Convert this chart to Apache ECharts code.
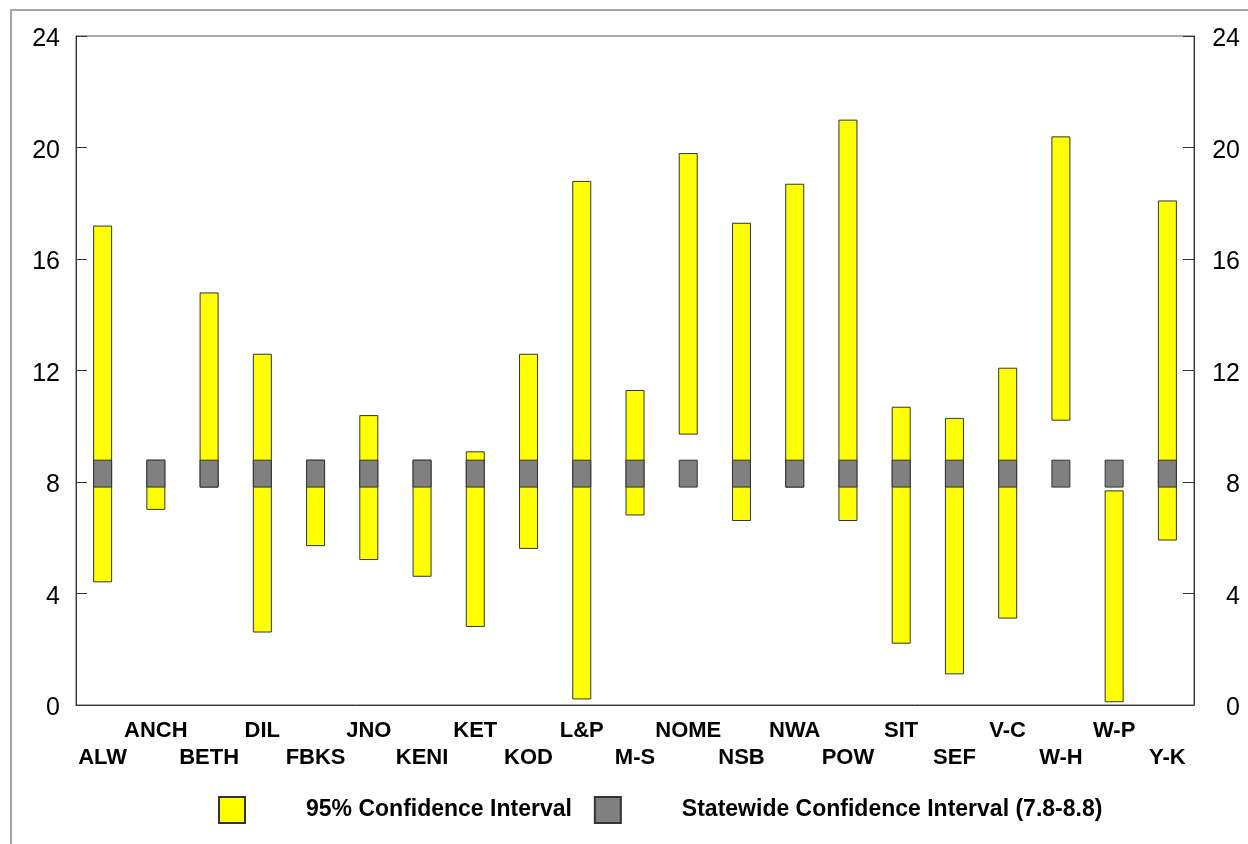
<!DOCTYPE html>
<html>
<head>
<meta charset="utf-8">
<script src="https://cdn.jsdelivr.net/npm/echarts@6/dist/echarts.min.js"></script>
<style>html,body{margin:0;padding:0;background:#fff;}#c{width:1248px;height:844px;}</style>
</head>
<body>
<div id="c"></div>
<script>
const categories = ['ALW','ANCH','BETH','DIL','FBKS','JNO','KENI','KET','KOD','L&P','M-S','NOME','NSB','NWA','POW','SIT','SEF','V-C','W-H','W-P','Y-K'];
const ciLow  = [4.4, 7.0, 7.8, 2.6, 5.7, 5.2, 4.6, 2.8, 5.6, 0.2, 6.8, 9.7, 6.6, 7.8, 6.6, 2.2, 1.1, 3.1, 10.2, 0.1, 5.9];
const ciHigh = [17.2, 8.8, 14.8, 12.6, 8.8, 10.4, 8.8, 9.1, 12.6, 18.8, 11.3, 19.8, 17.3, 18.7, 21.0, 10.7, 10.3, 12.1, 20.4, 7.7, 18.1];
const stateLow = 7.8;
const stateHigh = 8.8;
const yTicks = [0, 4, 8, 12, 16, 20, 24];

const fontFam = '"Liberation Sans", Arial, sans-serif';
const chart = echarts.init(document.getElementById('c'));
const yAxisCommon = {
  type: 'value', min: yTicks[0], max: yTicks[yTicks.length - 1], interval: 4,
  splitLine: { show: false },
  axisLine: { show: true, lineStyle: { color: '#333', width: 1 } },
  axisTick: { show: true, inside: true, length: 11, lineStyle: { color: '#333' } },
  axisLabel: {
    color: '#000', fontSize: 25, fontFamily: fontFam,
    formatter: function (v) { return '{a|' + v + '}'; },
    rich: { a: { fontSize: 25, fontFamily: fontFam, color: '#000', padding: [7, 0, 0, 0] } }
  }
};
chart.setOption({
  animation: false,
  grid: { left: 76, right: 54, top: 36, bottom: 139, show: true, borderColor: '#555', borderWidth: 1, backgroundColor: 'transparent' },
  graphic: [{ type: 'rect', shape: { x: 11, y: 10, width: 1300, height: 900 }, style: { fill: 'none', stroke: '#888', lineWidth: 1.5 }, silent: true }],
  legend: {
    left: 218, top: 796, padding: 0, itemWidth: 26, itemHeight: 26, itemGap: 22,
    data: ['95% Confidence Interval', 'Statewide Confidence Interval (7.8-8.8)'],
    textStyle: { fontSize: 23, fontWeight: 'bold', color: '#000', fontFamily: fontFam, padding: [2, 0, 0, 56] },
    icon: 'rect'
  },
  xAxis: {
    type: 'category', data: categories,
    axisLine: { show: true, lineStyle: { color: '#333' } },
    axisTick: { show: false },
    axisLabel: {
      interval: 0, hideOverlap: false, margin: 12, lineHeight: 27,
      fontSize: 22, fontWeight: 'bold', color: '#000', fontFamily: fontFam,
      formatter: function (v, i) { return i % 2 === 0 ? '\n' + v : v; }
    }
  },
  yAxis: [
    Object.assign({}, yAxisCommon, { position: 'left', axisLabel: Object.assign({}, yAxisCommon.axisLabel, { margin: 16 }) }),
    Object.assign({}, yAxisCommon, { position: 'right', axisLabel: Object.assign({}, yAxisCommon.axisLabel, { margin: 46, align: 'right' }) })
  ],
  series: [
    { name: 'ciBase', type: 'bar', stack: 'ci', barWidth: 19, silent: true,
      itemStyle: { color: 'transparent', borderWidth: 0 }, data: ciLow },
    { name: '95% Confidence Interval', type: 'bar', stack: 'ci', barWidth: 19,
      itemStyle: { color: '#ffff00', borderColor: '#333', borderWidth: 1 },
      data: ciHigh.map((h, i) => +(h - ciLow[i]).toFixed(2)) },
    { name: 'stBase', type: 'bar', stack: 'st', barWidth: 19, barGap: '-100%', silent: true,
      itemStyle: { color: 'transparent', borderWidth: 0 }, data: categories.map(() => stateLow) },
    { name: 'Statewide Confidence Interval (7.8-8.8)', type: 'bar', stack: 'st', barWidth: 19, barGap: '-100%',
      itemStyle: { color: '#808080', borderColor: '#333', borderWidth: 1 },
      data: categories.map(() => +(stateHigh - stateLow).toFixed(2)) }
  ]
});
</script>
</body>
</html>
